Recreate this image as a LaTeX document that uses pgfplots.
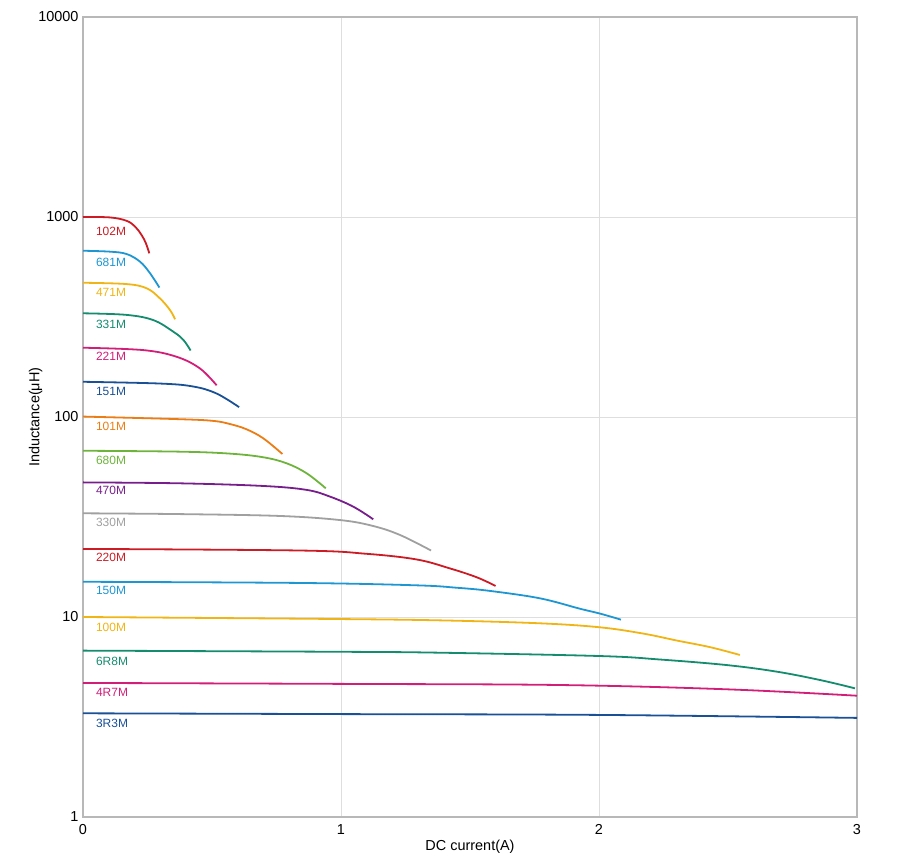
\documentclass[border=0pt]{standalone}
\usepackage{pgfplots}
\pgfplotsset{compat=1.18}
\usepackage{fontspec}
\setmainfont{Liberation Sans}
\definecolor{cred}{RGB}{204,27,36}
\definecolor{cltblue}{RGB}{30,150,210}
\definecolor{cgold}{RGB}{240,180,20}
\definecolor{cteal}{RGB}{20,140,110}
\definecolor{cmag}{RGB}{210,30,120}
\definecolor{cdkblue}{RGB}{25,80,150}
\definecolor{corange}{RGB}{235,125,20}
\definecolor{cgreen}{RGB}{110,180,60}
\definecolor{cpurple}{RGB}{120,30,140}
\definecolor{cgray}{RGB}{160,160,160}
\tikzset{lbl/.style={anchor=west, font=\fontsize{12}{14}\selectfont, inner sep=0pt},
  cv/.style={smooth, tension=0.6, line width=1.8bp, no marks}}
\begin{document}
\begin{tikzpicture}[x=1bp,y=1bp]
\begin{axis}[
  at={(83bp,44bp)}, anchor=south west,
  scale only axis, width=774bp, height=800bp,
  ymode=log, xmin=0, xmax=3, ymin=1, ymax=10000,
  xtick={0,1,2,3}, xticklabels={0,1,2,3},
  ytick={1,10,100,1000,10000}, yticklabels={1,10,100,1000,10000},
  minor tick num=0, yminorticks=false,
  major tick length=0pt,
  grid=major, major grid style={draw=black!13, line width=0.8bp},
  axis line style={draw=black!28, line width=1.2bp},
  ticklabel style={font=\fontsize{14.5}{16}\selectfont, text=black},
  xticklabel style={yshift=-4bp},
  yticklabel style={xshift=-1bp},
  xlabel={DC current(A)}, ylabel={Inductance(μH)},
  xlabel style={font=\fontsize{14.5}{16}\selectfont, yshift=2bp},
  ylabel style={font=\fontsize{14.5}{16}\selectfont, yshift=-11bp},
  clip=false,
]
\addplot[cv, cred] coordinates {(0,1000) (0.105,995) (0.169,957) (0.202,895) (0.227,813) (0.244,738) (0.257,658)};
\addplot[cv, cltblue] coordinates {(0,678) (0.105,671) (0.169,653) (0.221,598) (0.26,523) (0.296,444)};
\addplot[cv, cgold] coordinates {(0,469) (0.169,462) (0.247,440) (0.298,392) (0.337,343) (0.357,308)};
\addplot[cv, cteal] coordinates {(0,330) (0.169,324) (0.273,305) (0.35,267) (0.389,243) (0.417,215)};
\addplot[cv, cmag] coordinates {(0,222) (0.234,216) (0.363,200) (0.453,175) (0.518,144)};
\addplot[cv, cdkblue] coordinates {(0,150) (0.298,147) (0.428,142) (0.518,131) (0.605,112)};
\addplot[cv, corange] coordinates {(0,100.5) (0.376,97.5) (0.505,95.6) (0.570,92.2) (0.634,86.8) (0.699,78.2) (0.773,65.3)};
\addplot[cv, cgreen] coordinates {(0,67.8) (0.376,67.1) (0.570,65.6) (0.699,62.9) (0.789,58.7) (0.867,52.3) (0.941,44)};
\addplot[cv, cpurple] coordinates {(0,47.1) (0.376,46.6) (0.699,45.2) (0.867,43.2) (0.957,40) (1.048,35.6) (1.125,30.8)};
\addplot[cv, cgray] coordinates {(0,33) (0.376,32.7) (0.764,32) (0.999,30.5) (1.125,28.5) (1.229,25.7) (1.349,21.5)};
\addplot[cv, cred] coordinates {(0,21.9) (0.841,21.5) (1.099,20.7) (1.293,19.4) (1.422,17.5) (1.526,15.8) (1.599,14.3)};
\addplot[cv, cltblue] coordinates {(0,15.0) (0.841,14.8) (1.293,14.4) (1.45,14.0) (1.578,13.5) (1.771,12.4) (1.926,11.0) (2.004,10.4) (2.085,9.7)};
\addplot[cv, cgold] coordinates {(0,10) (0.948,9.78) (1.384,9.62) (1.771,9.3) (2.004,8.88) (2.172,8.26) (2.301,7.63) (2.430,7.07) (2.546,6.46)};
\addplot[cv, cteal] coordinates {(0,6.79) (1,6.7) (1.384,6.63) (2.004,6.38) (2.236,6.13) (2.495,5.75) (2.689,5.33) (2.857,4.84) (2.992,4.4)};
\addplot[cv, cmag] coordinates {(0,4.68) (1,4.63) (1.849,4.57) (2.495,4.35) (3,4.04)};
\addplot[cv, cdkblue] coordinates {(0,3.3) (1,3.27) (1.985,3.24) (3,3.13)};
\node[lbl, text=cred] at (axis cs:0.05,851) {102M};
\node[lbl, text=cltblue] at (axis cs:0.05,594) {681M};
\node[lbl, text=cgold] at (axis cs:0.05,418) {471M};
\node[lbl, text=cteal] at (axis cs:0.05,292) {331M};
\node[lbl, text=cmag] at (axis cs:0.05,200) {221M};
\node[lbl, text=cdkblue] at (axis cs:0.05,134) {151M};
\node[lbl, text=corange] at (axis cs:0.05,90.2) {101M};
\node[lbl, text=cgreen] at (axis cs:0.05,61) {680M};
\node[lbl, text=cpurple] at (axis cs:0.05,42.8) {470M};
\node[lbl, text=cgray] at (axis cs:0.05,29.85) {330M};
\node[lbl, text=cred] at (axis cs:0.05,19.9) {220M};
\node[lbl, text=cltblue] at (axis cs:0.05,13.54) {150M};
\node[lbl, text=cgold] at (axis cs:0.05,8.84) {100M};
\node[lbl, text=cteal] at (axis cs:0.05,6.03) {6R8M};
\node[lbl, text=cmag] at (axis cs:0.05,4.22) {4R7M};
\node[lbl, text=cdkblue] at (axis cs:0.05,2.94) {3R3M};
\end{axis}
\pgfresetboundingbox
\path (0bp,0bp) rectangle (910bp,861bp);
\end{tikzpicture}
\end{document}
